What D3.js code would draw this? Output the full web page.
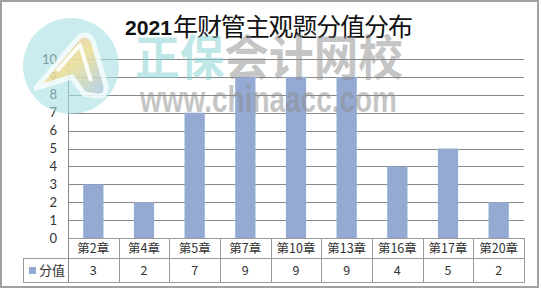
<!DOCTYPE html>
<html>
<head>
<meta charset="utf-8">
<script src="https://cdn.jsdelivr.net/npm/d3@7"></script>
<style>
  html, body { margin: 0; padding: 0; background: #fff; }
  svg { display: block; }
</style>
</head>
<body>
<svg id="chart" width="541" height="290"></svg>
<script>
// chart data
const categories = ["第2章", "第4章", "第5章", "第7章", "第10章", "第13章", "第16章", "第17章", "第20章"];
const scores = [3, 2, 7, 9, 9, 9, 4, 5, 2];
const yTicks = [0, 1, 2, 3, 4, 5, 6, 7, 8, 9, 10];
const seriesName = "分值";
const titleYear = "2021";
const titleText = "年财管主观题分值分布";

const svg = d3.select("#chart");
const plot = { left: 68, right: 524, top: 59, bottom: 238 };
const table = { left: 23, mid: 258, bottom: 282 };
const barColor = "#94aad3";
const gridColor = "#888888";
const lineColor = "#9a9a9a";
const cjk = "'Noto Sans CJK SC', 'Noto Sans', sans-serif";

const x = d3.scaleBand().domain(categories).range([plot.left, plot.right]);
const y = d3.scaleLinear().domain([0, 10]).range([plot.bottom, plot.top]);

// outer frame
svg.append("rect")
  .attr("x", 1).attr("y", 1).attr("width", 537).attr("height", 286)
  .attr("fill", "#fff").attr("stroke", "#a0a0a0").attr("stroke-width", 2);

// title
svg.append("text")
  .attr("x", 125).attr("y", 35)
  .attr("font-family", "'Liberation Sans', Arial, sans-serif")
  .attr("font-weight", "bold").attr("font-size", 21)
  .attr("textLength", 47).attr("lengthAdjust", "spacingAndGlyphs")
  .attr("fill", "#111").text(titleYear);
svg.append("text")
  .attr("x", 173).attr("y", 36)
  .attr("font-family", cjk).attr("font-size", 25)
  .attr("textLength", 240).attr("lengthAdjust", "spacing")
  .attr("fill", "#111").text(titleText);

// horizontal gridlines
svg.append("g").selectAll("line")
  .data(yTicks.filter(t => t > 0))
  .join("line")
  .attr("x1", plot.left).attr("x2", plot.right)
  .attr("y1", d => Math.round(y(d)) + 0.5).attr("y2", d => Math.round(y(d)) + 0.5)
  .attr("stroke", gridColor).attr("stroke-width", 1);

// y axis labels
const yAxis = svg.append("g")
  .attr("transform", `translate(${plot.left},0)`)
  .call(d3.axisLeft(y).tickValues(yTicks).tickSize(0).tickPadding(11));
yAxis.select(".domain").remove();
yAxis.selectAll("text")
  .attr("font-family", "Lato, 'Noto Sans', sans-serif")
  .attr("font-size", 13).attr("fill", "#333");

// bars
const bw = x.bandwidth() * 0.4;
svg.append("g").selectAll("rect")
  .data(scores)
  .join("rect")
  .attr("x", (d, i) => x(categories[i]) + (x.bandwidth() - bw) / 2)
  .attr("y", d => y(d))
  .attr("width", bw)
  .attr("height", d => y(0) - y(d))
  .attr("fill", barColor);

// value axis line
svg.append("line")
  .attr("x1", plot.left + 0.5).attr("x2", plot.left + 0.5)
  .attr("y1", plot.top).attr("y2", table.bottom)
  .attr("stroke", gridColor);

// data table grid
const tg = svg.append("g").attr("stroke", lineColor).attr("stroke-width", 1);
tg.append("line").attr("x1", plot.left).attr("x2", plot.right)
  .attr("y1", plot.bottom + 0.5).attr("y2", plot.bottom + 0.5);
[table.mid, table.bottom].forEach(yy => {
  tg.append("line").attr("x1", table.left).attr("x2", plot.right)
    .attr("y1", yy + 0.5).attr("y2", yy + 0.5);
});
tg.append("line").attr("x1", table.left + 0.5).attr("x2", table.left + 0.5)
  .attr("y1", table.mid).attr("y2", table.bottom + 1);
categories.forEach(c => {
  const xx = Math.round(x(c) + x.bandwidth()) + 0.5;
  tg.append("line").attr("x1", xx).attr("x2", xx)
    .attr("y1", plot.bottom).attr("y2", table.bottom + 1);
});

// category and value cells
svg.append("g").selectAll("text")
  .data(categories)
  .join("text")
  .attr("x", d => x(d) + x.bandwidth() / 2)
  .attr("y", (plot.bottom + table.mid) / 2 + 4.5)
  .attr("text-anchor", "middle")
  .attr("font-family", cjk).attr("font-size", 12.5).attr("fill", "#333")
  .text(d => d);
svg.append("g").selectAll("text")
  .data(scores)
  .join("text")
  .attr("x", (d, i) => x(categories[i]) + x.bandwidth() / 2)
  .attr("y", (table.mid + table.bottom) / 2 + 5)
  .attr("text-anchor", "middle")
  .attr("font-family", cjk).attr("font-size", 12.5).attr("fill", "#333")
  .text(d => d);

// legend key inside the table
svg.append("rect")
  .attr("x", 29).attr("y", 267).attr("width", 7).attr("height", 7)
  .attr("fill", barColor);
svg.append("text")
  .attr("x", 39).attr("y", (table.mid + table.bottom) / 2 + 5)
  .attr("font-family", cjk).attr("font-size", 13).attr("fill", "#333")
  .text(seriesName);

// watermark overlay
const wm = svg.append("g");
const defs = svg.append("defs");
const grad = defs.append("linearGradient").attr("id", "logoGrad")
  .attr("x1", "0").attr("y1", "0").attr("x2", "1").attr("y2", "1");
grad.append("stop").attr("offset", "0%").attr("stop-color", "#f4b6c8");
grad.append("stop").attr("offset", "50%").attr("stop-color", "#f8e08a");
grad.append("stop").attr("offset", "100%").attr("stop-color", "#a9c8ef");

wm.append("circle")
  .attr("cx", 71).attr("cy", 66).attr("r", 48)
  .attr("fill", "#a6e0e2").attr("opacity", 0.6);
wm.append("path")
  .attr("d", "M36,88 L78,38 Q87,31 93,41 L106,86 Q107,97 97,96 L84,94 L72,77 Z")
  .attr("fill", "url(#logoGrad)").attr("opacity", 0.75)
  .attr("stroke", "#fff").attr("stroke-width", 5).attr("stroke-linejoin", "round");
wm.append("path")
  .attr("d", "M57,71 L80,45 L91,81")
  .attr("fill", "none").attr("stroke", "#fff").attr("stroke-width", 4)
  .attr("stroke-linejoin", "round").attr("opacity", 0.9);

const brand = wm.append("text")
  .attr("x", 135).attr("y", 75)
  .attr("font-family", cjk).attr("font-weight", "bold").attr("font-size", 48)
  .attr("textLength", 268).attr("lengthAdjust", "spacingAndGlyphs");
brand.append("tspan").attr("fill", "#7fd0d0").attr("fill-opacity", 0.5).text("正保");
brand.append("tspan").attr("fill", "#8c8c8c").attr("fill-opacity", 0.5).text("会计网校");

wm.append("text")
  .attr("x", 140).attr("y", 112)
  .attr("font-family", "'Liberation Sans Narrow', 'Liberation Sans', Arial, sans-serif")
  .attr("font-weight", "bold").attr("font-size", 37)
  .attr("textLength", 257).attr("lengthAdjust", "spacingAndGlyphs")
  .attr("fill", "#8c8c8c").attr("fill-opacity", 0.5)
  .text("www.chinaacc.com");
</script>
</body>
</html>
